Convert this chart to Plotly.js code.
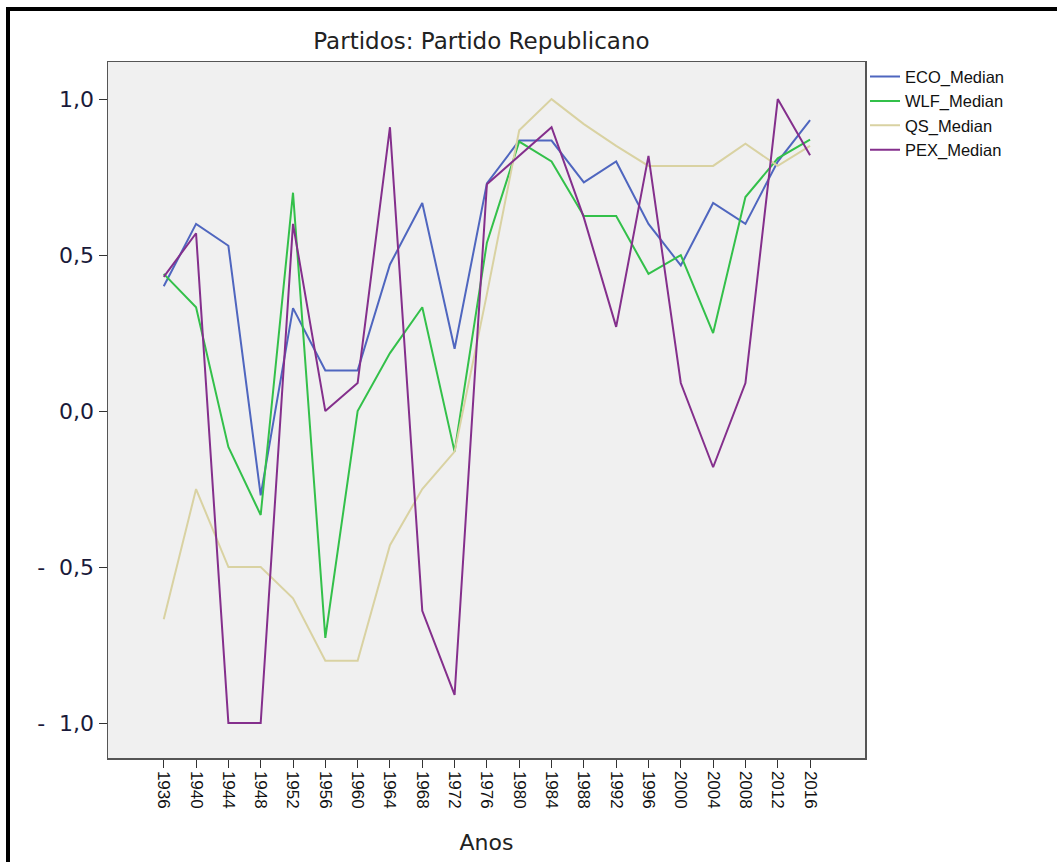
<!DOCTYPE html>
<html>
<head>
<meta charset="utf-8">
<script src="https://cdn.plot.ly/plotly-3.0.1.min.js"></script>
<style>
html,body{margin:0;padding:0;background:#fff;}
#frame{position:absolute;left:6px;top:7px;width:1051px;height:855px;border-left:4px solid #000;border-top:4px solid #000;box-sizing:border-box;pointer-events:none;z-index:10;}
#chart{position:absolute;left:0;top:0;width:1057px;height:862px;}
</style>
</head>
<body>
<div id="chart"></div>
<div id="frame"></div>
<script>
var years = [1936,1940,1944,1948,1952,1956,1960,1964,1968,1972,1976,1980,1984,1988,1992,1996,2000,2004,2008,2012,2016];
var eco = [0.40,0.60,0.53,-0.27,0.33,0.13,0.13,0.47,0.667,0.20,0.73,0.867,0.867,0.733,0.80,0.60,0.467,0.667,0.60,0.80,0.933];
var wlf = [0.44,0.333,-0.115,-0.333,0.70,-0.727,0.0,0.186,0.333,-0.13,0.54,0.864,0.80,0.625,0.625,0.44,0.50,0.25,0.686,0.81,0.87];
var qs  = [-0.667,-0.25,-0.50,-0.50,-0.60,-0.80,-0.80,-0.43,-0.25,-0.13,0.375,0.90,1.0,0.92,0.85,0.786,0.786,0.786,0.857,0.786,0.85];
var pex = [0.43,0.57,-1.0,-1.0,0.60,0.0,0.09,0.91,-0.64,-0.91,0.727,0.818,0.91,0.62,0.27,0.818,0.09,-0.18,0.09,1.0,0.82];
var names = ["ECO_Median","WLF_Median","QS_Median","PEX_Median"];
var colors = ["#4f66bf","#33c04a","#d9d2a2","#842f8c"];
var yTickVals = [1.0,0.5,0.0,-0.5,-1.0];
var yTickText = ["1,0","0,5","0,0","-\u00a0\u00a00,5","-\u00a0\u00a01,0"];

var series = [eco,wlf,qs,pex];
var traces = series.map(function(s,i){
  return {x:years,y:s,type:"scatter",mode:"lines",name:names[i],
          line:{color:colors[i],width:2}};
});

var layout = {
  width:1057,height:862,
  paper_bgcolor:"#ffffff",plot_bgcolor:"#f0f0f0",
  margin:{l:108,r:192,t:62,b:104},
  title:{text:"Partidos: Partido Republicano",x:0.4555,xanchor:"center",y:0.953,yanchor:"middle",
         font:{family:"DejaVu Sans",size:23,color:"#222222"}},
  showlegend:true,
  legend:{x:1.0,xanchor:"left",y:1.004,yanchor:"top",bgcolor:"rgba(0,0,0,0)",
          font:{family:"Liberation Sans",size:16.5,color:"#111111"},tracegroupgap:0,itemwidth:30},
  xaxis:{range:[1929.1,2022.8],tickvals:years,ticktext:years.map(String),tickangle:90,
         ticks:"outside",ticklen:8,tickcolor:"#333",tickwidth:1,
         showgrid:false,zeroline:false,showline:true,mirror:true,linecolor:"#555",linewidth:1.5,
         tickfont:{family:"Liberation Sans",size:17,color:"#111"},
         title:{text:"Anos",font:{family:"DejaVu Sans",size:22,color:"#222"},standoff:27}},
  yaxis:{range:[-1.112,1.119],tickvals:yTickVals,ticktext:yTickText,
         ticks:"outside",ticklen:8,tickcolor:"#333",tickwidth:1,
         showgrid:false,zeroline:false,showline:true,mirror:true,linecolor:"#555",linewidth:1.5,
         tickfont:{family:"DejaVu Sans",size:22,color:"#1a1a3a"}}
};

Plotly.newPlot("chart",traces,layout,{displayModeBar:false,staticPlot:true});
</script>
</body>
</html>
